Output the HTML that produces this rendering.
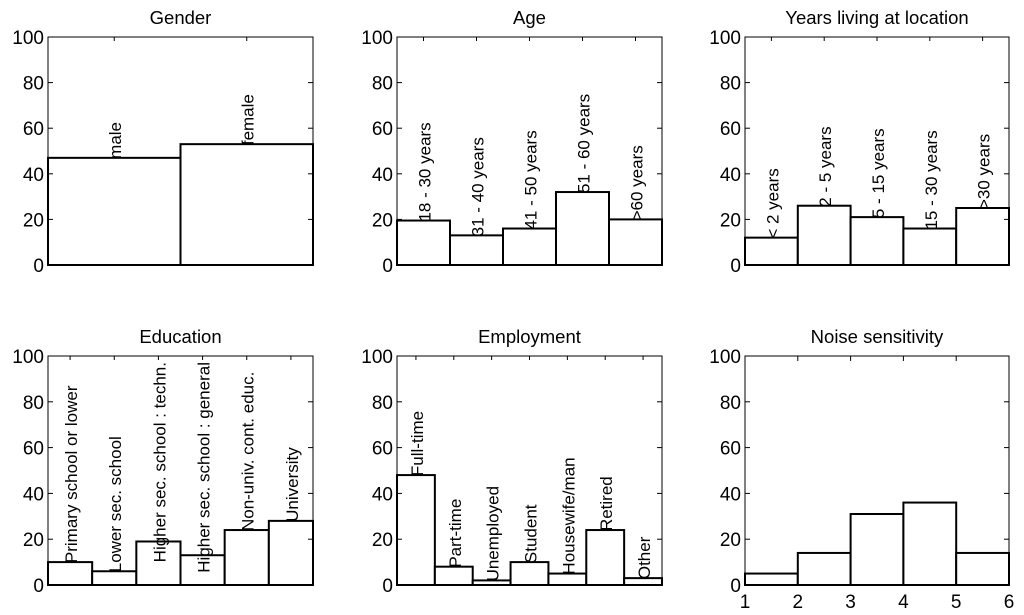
<!DOCTYPE html>
<html><head><meta charset="utf-8"><style>
html,body{margin:0;padding:0;background:#fff;}
svg{display:block;font-family:"Liberation Sans",sans-serif;}
</style></head><body>
<svg id="c" width="1024" height="615" viewBox="0 0 1024 615"></svg>
<script>
const genderCats=["male","female"];
const genderVals=[47,53];
const ageCats=["18 - 30 years","31 - 40 years","41 - 50 years","51 - 60 years",">60 years"];
const ageVals=[19.5,13,16,32,20];
const yearsCats=["< 2 years","2 - 5 years","5 - 15 years","15 - 30 years",">30 years"];
const yearsVals=[12,26,21,16,25];
const eduCats=["Primary school or lower","Lower sec. school","Higher sec. school : techn.","Higher sec. school : general","Non-univ. cont. educ.","University"];
const eduVals=[10,6,19,13,24,28];
const empCats=["Full-time","Part-time","Unemployed","Student","Housewife/man","Retired","Other"];
const empVals=[48,8,2,10,5,24,3];
const noiseCats=["","","","",""];
const noiseVals=[5,14,31,36,14];
const yTicks=[0,20,40,60,80,100];
const noiseXTicks=[1,2,3,4,5,6];

const NS="http://www.w3.org/2000/svg";
const svg=document.getElementById('c');
function mk(tag,attrs,parent){const e=document.createElementNS(NS,tag);for(const k in attrs)e.setAttribute(k,attrs[k]);(parent||svg).appendChild(e);return e;}

const panels=[
 {title:"Gender",cats:genderCats,vals:genderVals,x0:48,x1:313,y0:265,y1:37,name:"gender"},
 {title:"Age",cats:ageCats,vals:ageVals,x0:397,x1:662,y0:265,y1:37,name:"age"},
 {title:"Years living at location",cats:yearsCats,vals:yearsVals,x0:745,x1:1009,y0:265,y1:37,name:"years"},
 {title:"Education",cats:eduCats,vals:eduVals,x0:48,x1:313,y0:585,y1:356,name:"education"},
 {title:"Employment",cats:empCats,vals:empVals,x0:397,x1:662,y0:585,y1:356,name:"employment"},
 {title:"Noise sensitivity",cats:noiseCats,vals:noiseVals,x0:745,x1:1009,y0:585,y1:356,name:"noise",xt:noiseXTicks}
];
panels.forEach(p=>{
  const g=mk('g',{});
  
  
  const n=p.vals.length, bw=(p.x1-p.x0)/n;
  const ys=v=>p.y0-(v/100)*(p.y0-p.y1);
  const t=mk('text',{x:(p.x0+p.x1)/2,y:p.y1-13,'text-anchor':'middle','font-size':18.5},g);
  t.textContent=p.title;
  
  
  p.vals.forEach((v,i)=>{
    const r=mk('rect',{x:p.x0+i*bw,y:ys(v),width:bw,height:p.y0-ys(v),fill:'#fff',stroke:'#000','stroke-width':2},g);
    
    
  });
  p.vals.forEach((v,i)=>{
    if(!p.cats[i])return;
    const cx=p.x0+(i+0.5)*bw+7;
    const l=mk('text',{x:cx,y:0,'font-size':17},g);
    l.textContent=p.cats[i];
    
    
    const len=l.getComputedTextLength();
    let cy=ys(v)+1;
    if(cy-len<p.y1+6) cy=p.y1+6+len;
    l.setAttribute('y',cy);
    l.setAttribute('transform',`rotate(-90 ${cx} ${cy})`);
  });
  const fr=mk('rect',{x:p.x0,y:p.y1,width:p.x1-p.x0,height:p.y0-p.y1,fill:'none',stroke:'#000','stroke-width':1},g);
  
  
  yTicks.forEach(tv=>{
    const y=ys(tv);
    mk('line',{x1:p.x0,x2:p.x0+5,y1:y,y2:y,stroke:'#000'},g);
    mk('line',{x1:p.x1,x2:p.x1-5,y1:y,y2:y,stroke:'#000'},g);
    const tl=mk('text',{x:p.x0-4,y:y+7,'text-anchor':'end','font-size':19},g);
    tl.textContent=tv;
    
    
  });
  if(p.xt){
    const xs=v=>p.x0+(v-p.xt[0])/(p.xt[p.xt.length-1]-p.xt[0])*(p.x1-p.x0);
    p.xt.forEach(tv=>{
      const x=xs(tv);
      mk('line',{x1:x,x2:x,y1:p.y0,y2:p.y0-5,stroke:'#000'},g);
      mk('line',{x1:x,x2:x,y1:p.y1,y2:p.y1+5,stroke:'#000'},g);
      const tl=mk('text',{x:x,y:p.y0+23,'text-anchor':'middle','font-size':19},g);
      tl.textContent=tv;
      
      
    });
  } else {
    p.vals.forEach((v,i)=>{
      const x=p.x0+(i+0.5)*bw;
      mk('line',{x1:x,x2:x,y1:p.y1,y2:p.y1+4,stroke:'#000'},g);
    });
  }
});
</script>
</body></html>
